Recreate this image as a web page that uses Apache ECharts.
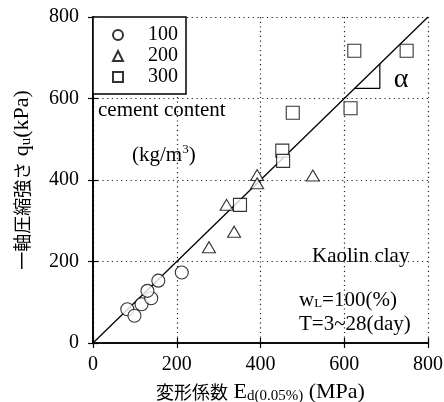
<!DOCTYPE html>
<html>
<head>
<meta charset="utf-8">
<script src="https://cdn.jsdelivr.net/npm/echarts@6/dist/echarts.min.js"></script>
<style>
  html, body { margin: 0; padding: 0; background: #fff; }
  #chart { width: 444px; height: 402px; }
</style>
</head>
<body>
<div id="chart"></div>
<script>
// Unconfined compressive strength vs. deformation modulus, by cement content
const cement100 = [[82, 83], [99, 67], [116, 95], [139, 110], [130, 128], [156, 153], [212, 173]];
const cement200 = [[277, 235], [337, 273], [319, 339], [392, 412], [392, 392], [525, 411]];
const cement300 = [[351, 339], [452, 472], [454, 447], [477, 565], [615, 576], [624, 717], [749, 717]];
const refLine = [[0, 0], [800, 800]];
const slopeMark = [[625, 625], [685, 625], [685, 685]];
const axisTicks = [0, 200, 400, 600, 800];

const SERIF = '"Liberation Serif", "Times New Roman", "Noto Sans CJK JP", serif';
const CJK = '"Noto Sans CJK JP", "Liberation Serif", serif';
const chart = echarts.init(document.getElementById('chart'));

const markerStyle = { color: '#fff', borderColor: '#000', borderWidth: 1.1 };

function axisBase(extra) {
  return Object.assign({
    type: 'value', min: axisTicks[0], max: axisTicks[axisTicks.length - 1], interval: 200,
    axisLine: { show: true, lineStyle: { color: '#000', width: 1.6 } },
    axisTick: { show: true, inside: true, length: 5, lineStyle: { color: '#000', width: 1.2 } },
    splitLine: { show: false },
    axisLabel: { show: false }
  }, extra);
}

const gridDots = { show: true, lineStyle: { color: '#222', type: [1.2, 3.5], width: 1.2 } };
const titleRich = {
  cjk: { fontFamily: CJK, fontSize: 18, color: '#000' },
  sub: { fontFamily: SERIF, fontSize: 15, color: '#000', verticalAlign: 'bottom', padding: [9, 0, 0, 0] }
};

chart.setOption({
  animation: false,
  backgroundColor: '#fff',
  grid: { left: 93, right: 16, top: 17, bottom: 59, containLabel: false, outerBoundsMode: 'none' },
  legend: {
    left: 93, top: 17, orient: 'vertical',
    backgroundColor: '#fff',
    borderColor: '#000', borderWidth: 1.5,
    padding: [8, 8, 7, 19],
    itemWidth: 10, itemHeight: 10, itemGap: 1,
    data: ['100', '200', '300'],
    textStyle: { fontFamily: SERIF, fontSize: 20, lineHeight: 20, color: '#000', padding: [0, 0, 0, 20] }
  },
  xAxis: [
    axisBase({
      position: 'bottom',
      splitLine: gridDots,
      axisLabel: { show: true, fontFamily: SERIF, fontSize: 20, color: '#000', margin: 12 },
      name: '{cjk|変形係数} E{sub|d(0.05%)} (MPa)',
      nameLocation: 'middle', nameGap: 37,
      nameTextStyle: { fontFamily: SERIF, fontSize: 22, color: '#000', rich: titleRich }
    }),
    axisBase({ position: 'top' })
  ],
  yAxis: [
    axisBase({
      position: 'left',
      splitLine: gridDots,
      axisLabel: { show: true, fontFamily: SERIF, fontSize: 20, color: '#000', margin: 14 },
      name: '{cjk|一軸圧縮強さ} q{sub|u}(kPa)',
      nameLocation: 'middle', nameGap: 59,
      nameTextStyle: { fontFamily: SERIF, fontSize: 22, color: '#000', rich: titleRich }
    }),
    axisBase({ position: 'right' })
  ],
  series: [
    {
      type: 'line', data: refLine, symbol: 'none', silent: true,
      lineStyle: { color: '#000', width: 1.3 }, z: 2
    },
    {
      type: 'line', data: slopeMark, symbol: 'none', silent: true,
      lineStyle: { color: '#000', width: 1.2 }, z: 2
    },
    {
      name: '100', type: 'scatter', data: cement100, symbol: 'circle', symbolSize: 13,
      itemStyle: markerStyle, z: 3
    },
    {
      name: '200', type: 'scatter', data: cement200, symbol: 'triangle', symbolSize: [13, 11],
      itemStyle: markerStyle, z: 3
    },
    {
      name: '300', type: 'scatter', data: cement300, symbol: 'rect', symbolSize: 13,
      itemStyle: markerStyle, z: 3
    }
  ],
  graphic: [
    { type: 'text', style: { x: 98, y: 110, text: 'cement content', font: '21px ' + SERIF, fill: '#000', textVerticalAlign: 'middle' } },
    { type: 'text', style: { x: 132, y: 155, text: '(kg/m{sup|3})', font: '21px ' + SERIF, fill: '#000', textVerticalAlign: 'middle',
      rich: { sup: { fontFamily: SERIF, fontSize: 13, verticalAlign: 'top', padding: [0, 0, 10, 0] } } } },
    { type: 'text', style: { x: 312, y: 256, text: 'Kaolin clay', font: '21px ' + SERIF, fill: '#000', textVerticalAlign: 'middle' } },
    { type: 'text', style: { x: 299, y: 300, text: 'w{sub|L}=100(%)', font: '21px ' + SERIF, fill: '#000', textVerticalAlign: 'middle',
      rich: { sub: { fontFamily: SERIF, fontSize: 13, verticalAlign: 'bottom', padding: [8, 0, 0, 0] } } } },
    { type: 'text', style: { x: 299, y: 324, text: 'T=3~28(day)', font: '21px ' + SERIF, fill: '#000', textVerticalAlign: 'middle' } },
    { type: 'text', style: { x: 401, y: 80, text: 'α', font: '28px ' + SERIF, fill: '#000', textAlign: 'center', textVerticalAlign: 'middle' } }
  ]
});
</script>
</body>
</html>
